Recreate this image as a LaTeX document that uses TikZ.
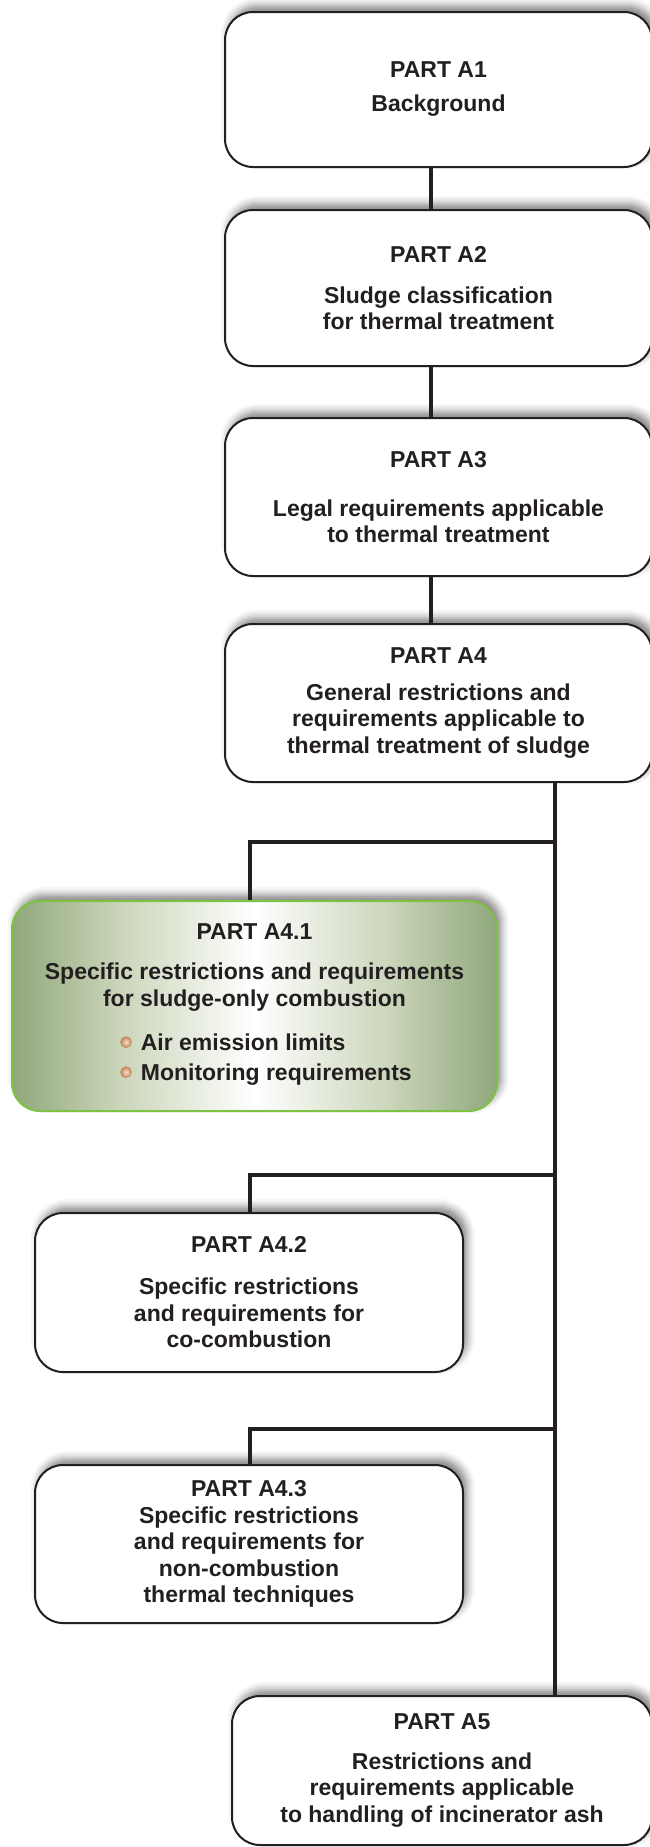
\documentclass[tikz,border=0pt]{standalone}
\usepackage{fontspec}
\setmainfont{Liberation Sans}
\usetikzlibrary{shadows.blur}
\definecolor{txt}{HTML}{231F20}
\definecolor{boxline}{HTML}{231F20}
\definecolor{edgeg}{HTML}{90A77C}
\definecolor{lightg}{HTML}{CAD5B9}
\definecolor{bordg}{HTML}{7DC242}
\definecolor{bulin}{HTML}{F5E0CC}
\definecolor{bulout}{HTML}{C4875A}
\pgfdeclarehorizontalshading{greenshade}{100bp}{color(0bp)=(edgeg); color(25bp)=(edgeg); color(36bp)=(lightg); color(50bp)=(white); color(64bp)=(lightg); color(75bp)=(edgeg); color(100bp)=(edgeg)}
\newcommand{\bulletball}{\tikz[baseline=-8pt]\shade[inner color=bulin, outer color=bulout, draw=bulout, line width=0.6pt] (0,0) circle (5.5pt);}
\tikzset{
  basebox/.style={line width=2pt, rounded corners=28pt, align=center,
    font=\bfseries\fontsize{23}{26.5}\selectfont, text=txt, inner sep=0pt,
    blur shadow={shadow xshift=4pt, shadow yshift=6pt, shadow blur radius=8pt, shadow opacity=50}},
  box/.style={basebox, draw=boxline, fill=white},
  greenbox/.style={basebox, draw=bordg, shade, shading=greenshade},
  link/.style={line width=3.2pt, draw=txt}
}
\begin{document}
\begin{tikzpicture}[x=1pt,y=-1pt]
\useasboundingbox (0,0) rectangle (649,1847);
\node[box, minimum width=427pt, minimum height=155pt] (a1) at (438.5,89.5)
  {PART A1\\[7.5pt]Background};
\node[box, minimum width=427pt, minimum height=156pt] (a2) at (438.5,288)
  {PART A2\\[14.5pt]Sludge classification\\for thermal treatment};
\node[box, minimum width=427pt, minimum height=158pt] (a3) at (438.5,497)
  {PART A3\\[22.5pt]Legal requirements applicable\\to thermal treatment};
\node[box, minimum width=427pt, minimum height=158pt] (a4) at (438.5,703)
  {PART A4\\[10.5pt]General restrictions and\\requirements applicable to\\thermal treatment of sludge};
\node[greenbox, minimum width=485pt, minimum height=210pt] (a41) at (254.5,1006)
  {PART A4.1\\[13.5pt]Specific restrictions and requirements\\for sludge-only combustion\\[19.5pt]
   \hspace*{23pt}\begin{tabular}{@{}l@{}}\bulletball\hspace{9pt}Air emission limits\\[3.5pt]\bulletball\hspace{9pt}Monitoring requirements\end{tabular}};
\node[box, minimum width=428pt, minimum height=159pt] (a42) at (249,1292.5)
  {PART A4.2\\[15.5pt]Specific restrictions\\and requirements for\\co-combustion};
\node[box, minimum width=428pt, minimum height=158pt] (a43) at (249,1544)
  {PART A4.3\\Specific restrictions\\and requirements for\\non-combustion\\thermal techniques};
\node[box, minimum width=420pt, minimum height=149pt] (a5) at (442,1770.5)
  {PART A5\\[13.5pt]Restrictions and\\requirements applicable\\to handling of incinerator ash};
\coordinate (cx) at (431,0);
\coordinate (t) at (555,0);
\coordinate (b1) at (250,842);
\coordinate (b2) at (250,1175);
\coordinate (b3) at (250,1429);
\draw[link] (a1.south -| cx) -- (a2.north -| cx);
\draw[link] (a2.south -| cx) -- (a3.north -| cx);
\draw[link] (a3.south -| cx) -- (a4.north -| cx);
\draw[link] (a4.south -| t) -- (a5.north -| t);
\draw[link] (b1 -| t) -- (b1) -- (a41.north -| b1);
\draw[link] (b2 -| t) -- (b2) -- (a42.north -| b2);
\draw[link] (b3 -| t) -- (b3) -- (a43.north -| b3);
\end{tikzpicture}
\end{document}
